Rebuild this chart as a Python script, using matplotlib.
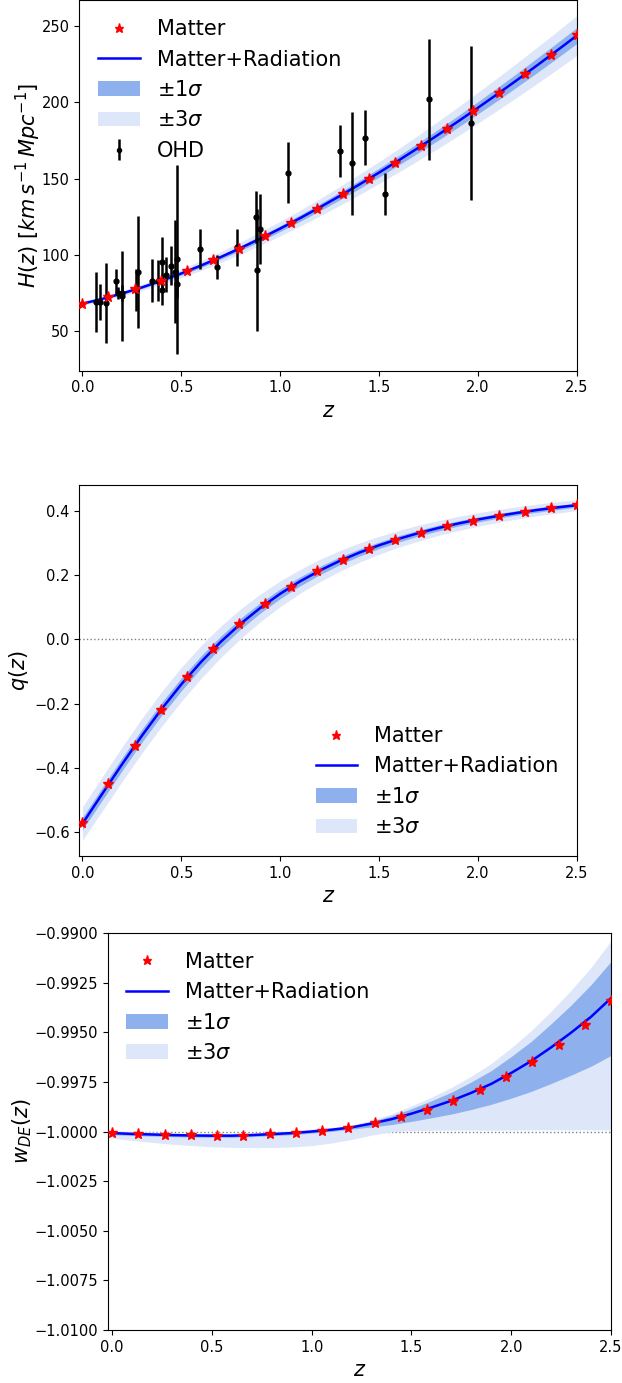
import numpy as np
import matplotlib
matplotlib.use("Agg")
import matplotlib.pyplot as plt
from matplotlib.ticker import ScalarFormatter, MultipleLocator

# ---------------- data ----------------
z_star = [0.0, 0.1316, 0.2632, 0.3947, 0.5263, 0.6579, 0.7895, 0.9211, 1.0526, 1.1842,
          1.3158, 1.4474, 1.5789, 1.7105, 1.8421, 1.9737, 2.1053, 2.2368, 2.3684, 2.5]
z_line = [0.0, 0.1, 0.2, 0.3, 0.4, 0.5, 0.6, 0.7, 0.8, 0.9, 1.0, 1.1, 1.2,
          1.3, 1.4, 1.5, 1.6, 1.7, 1.8, 1.9, 2.0, 2.1, 2.2, 2.3, 2.4, 2.5]

# H(z)
H_star = [68.0, 72.3, 77.3, 82.9, 89.3, 96.4, 104.0, 112.3, 121.0, 130.2,
          139.8, 150.0, 160.5, 171.4, 182.7, 194.3, 206.3, 218.6, 231.1, 244.0]
H_line = [68.0, 71.1, 74.65, 78.63, 83.04, 87.85, 93.04, 98.61, 104.51, 110.73,
          117.27, 124.09, 131.21, 138.57, 146.18, 154.04, 162.12, 170.44, 178.96,
          187.67, 196.61, 205.72, 215.03, 224.52, 234.18, 244.0]
H_sig1 = [0.4, 0.5, 0.6, 0.8, 1.0, 1.1, 1.3, 1.4, 1.6, 1.8, 1.9, 2.1, 2.3,
          2.5, 2.7, 2.9, 3.1, 3.3, 3.6, 3.8, 4.0, 4.3, 4.5, 4.8, 5.0, 5.2]
H_sig3 = [1.0, 1.3, 1.6, 2.0, 2.4, 2.8, 3.2, 3.6, 4.0, 4.4, 4.8, 5.2, 5.7,
          6.2, 6.7, 7.2, 7.7, 8.3, 8.9, 9.5, 10.1, 10.7, 11.3, 11.9, 12.5, 13.1]

# OHD data
z_ohd = [0.07, 0.09, 0.12, 0.17, 0.179, 0.199, 0.2, 0.27, 0.28, 0.352, 0.3802, 0.4,
         0.4004, 0.4247, 0.4497, 0.47, 0.4783, 0.48, 0.593, 0.68, 0.781, 0.875, 0.88,
         0.9, 1.037, 1.3, 1.363, 1.43, 1.53, 1.75, 1.965]
H_ohd = [69.0, 69.0, 68.6, 83.0, 75.0, 75.0, 72.9, 77.0, 88.8, 83.0, 83.0, 95.0,
         77.0, 87.1, 92.8, 89.0, 80.9, 97.0, 104.0, 92.0, 105.0, 125.0, 90.0,
         117.0, 154.0, 168.0, 160.0, 177.0, 140.0, 202.0, 186.5]
H_err = [19.6, 12.0, 26.2, 8.0, 4.0, 5.0, 29.6, 14.0, 36.6, 14.0, 13.5, 17.0,
         10.2, 11.2, 12.9, 34.0, 9.0, 62.0, 13.0, 8.0, 12.0, 17.0, 40.0,
         23.0, 20.0, 17.0, 33.6, 18.0, 14.0, 40.0, 50.4]

# q(z)
q_star = [-0.570, -0.448, -0.330, -0.218, -0.118, -0.030, 0.047, 0.109, 0.164, 0.211,
          0.248, 0.282, 0.309, 0.332, 0.352, 0.368, 0.383, 0.396, 0.407, 0.417]
q_line = [-0.5725, -0.4800, -0.3883, -0.2998, -0.2165, -0.1396, -0.0699, -0.0072,
          0.0488, 0.0982, 0.1418, 0.1802, 0.2139, 0.2436, 0.2696, 0.2924, 0.3126,
          0.3304, 0.3461, 0.3601, 0.3725, 0.3835, 0.3933, 0.4021, 0.4100, 0.4171]
q_sig1 = [0.019, 0.020, 0.020, 0.020, 0.020, 0.020, 0.019, 0.018, 0.017, 0.016, 0.015,
          0.014, 0.013, 0.012, 0.011, 0.010, 0.010, 0.009, 0.009, 0.008, 0.008, 0.007,
          0.007, 0.007, 0.007, 0.006]
q_sig3 = [0.052, 0.053, 0.054, 0.054, 0.054, 0.053, 0.051, 0.049, 0.046, 0.043, 0.040,
          0.037, 0.035, 0.032, 0.030, 0.028, 0.026, 0.025, 0.023, 0.022, 0.021, 0.020,
          0.019, 0.018, 0.018, 0.017]

# w_DE(z)
w_star = [-1.00008, -1.00013, -1.00017, -1.00020, -1.00022, -1.00021, -1.00015, -1.00008,
          -0.99996, -0.99983, -0.99956, -0.99927, -0.99892, -0.99847, -0.99793, -0.99726,
          -0.99652, -0.99563, -0.99462, -0.99341]
w_line = [-1.00008, -1.00012, -1.00015, -1.00018, -1.00020, -1.00021, -1.00021, -1.00018,
          -1.00013, -1.00008, -1.00000, -0.99991, -0.99979, -0.99960, -0.99938, -0.99910,
          -0.99879, -0.99845, -0.99805, -0.99760, -0.99705, -0.99645, -0.99576, -0.99502,
          -0.99422, -0.99328]
w_sig1_hi = [0.00007, 0.00007, 0.00007, 0.00007, 0.00007, 0.00007, 0.00007, 0.00007,
             0.00007, 0.00007, 0.00007, 0.00007, 0.00007, 0.00011, 0.00017, 0.00025,
             0.00034, 0.00043, 0.00055, 0.00067, 0.00083, 0.00099, 0.00119, 0.00139,
             0.00162, 0.00185]
w_sig1_lo = [0.00008, 0.00008, 0.00008, 0.00008, 0.00008, 0.00008, 0.00008, 0.00008,
             0.00008, 0.00008, 0.00008, 0.00008, 0.00009, 0.00017, 0.00027, 0.00039,
             0.00052, 0.00067, 0.00084, 0.00103, 0.00127, 0.00153, 0.00182, 0.00214,
             0.00249, 0.00289]
w_sig3_hi = [0.00012, 0.00012, 0.00012, 0.00012, 0.00012, 0.00012, 0.00012, 0.00012,
             0.00012, 0.00012, 0.00012, 0.00012, 0.00012, 0.00017, 0.00027, 0.00039,
             0.00052, 0.00067, 0.00084, 0.00103, 0.00127, 0.00153, 0.00182, 0.00214,
             0.00249, 0.00289]
w_sig3_lower = [-1.00034, -1.00045, -1.00055, -1.00064, -1.00071, -1.00077, -1.00080,
                -1.00081, -1.00081, -1.00078, -1.00071, -1.00058, -1.00040, -1.00018,
                -1.00002, -0.99996, -0.99994, -0.99993, -0.99993, -0.99993, -0.99993,
                -0.99992, -0.99992, -0.99992, -0.99992, -0.99992]

# ---------------- style ----------------
c_sig1 = "#8EB1EE"
c_sig3 = "#DEE7F9"
leg_fs = 15
lab_fs = 15
tick_fs = 10.5

fig = plt.figure(figsize=(6.22, 13.83), dpi=100)
ax1 = fig.add_axes([0.1278, 0.7320, 0.7998, 0.2677])
ax2 = fig.add_axes([0.1278, 0.3811, 0.7998, 0.2683])
ax3 = fig.add_axes([0.1732, 0.0383, 0.8092, 0.2871])

zl = np.array(z_line)


def common(ax, line_vals, star_vals, lo1, hi1, lo3, hi3):
    f3 = ax.fill_between(zl, lo3, hi3, color=c_sig3, lw=0, label=r"$\pm 3\sigma$", zorder=1)
    f1 = ax.fill_between(zl, lo1, hi1, color=c_sig1, lw=0, label=r"$\pm 1\sigma$", zorder=2)
    ln, = ax.plot(zl, line_vals, color="blue", lw=1.8, label="Matter+Radiation", zorder=3)
    st, = ax.plot(z_star, star_vals, ls="none", marker="*", color="red", ms=8,
                  label="Matter", zorder=5)
    ax.set_xlabel(r"$z$", fontsize=lab_fs)
    ax.xaxis.set_major_locator(MultipleLocator(0.5))
    ax.tick_params(labelsize=tick_fs)
    return st, ln, f1, f3


# Panel 1: H(z)
Hl = np.array(H_line)
s1, l1, f11, f13 = common(ax1, Hl, H_star, Hl - np.array(H_sig1), Hl + np.array(H_sig1),
                          Hl - np.array(H_sig3), Hl + np.array(H_sig3))
eb = ax1.errorbar(z_ohd, H_ohd, yerr=H_err, fmt="o", color="black", ms=3.5,
                  elinewidth=1.8, capsize=0, label="OHD", zorder=4)
ax1.set_xlim(-0.015, 2.5)
ax1.set_ylim(24, 267)
ax1.yaxis.set_major_locator(MultipleLocator(50))
ax1.set_ylabel(r"$H(z)\ [km\,s^{-1}\,Mpc^{-1}]$", fontsize=lab_fs, labelpad=-1)
ax1.legend(handles=[s1, l1, f11, f13, eb], loc="upper left", frameon=False,
           fontsize=leg_fs, markerscale=0.85)

# Panel 2: q(z)
ql = np.array(q_line)
s2, l2, f21, f23 = common(ax2, ql, q_star, ql - np.array(q_sig1), ql + np.array(q_sig1),
                          ql - np.array(q_sig3), ql + np.array(q_sig3))
ax2.axhline(0.0, color="gray", ls=":", lw=1, zorder=0.5)
ax2.set_xlim(-0.015, 2.5)
ax2.set_ylim(-0.673, 0.48)
ax2.yaxis.set_major_locator(MultipleLocator(0.2))
ax2.set_ylabel(r"$q(z)$", fontsize=lab_fs, labelpad=2)
ax2.legend(handles=[s2, l2, f21, f23], loc="lower right", frameon=False,
           fontsize=leg_fs, markerscale=0.85)

# Panel 3: w_DE(z)
wl = np.array(w_line)
s3, l3, f31, f33 = common(ax3, wl, w_star, wl - np.array(w_sig1_lo), wl + np.array(w_sig1_hi),
                          np.array(w_sig3_lower), wl + np.array(w_sig3_hi))
ax3.axhline(-1.0, color="gray", ls=":", lw=1, zorder=0.5)
ax3.set_xlim(-0.022, 2.5)
ax3.set_ylim(-1.01, -0.99)
ax3.set_yticks([-1.01, -1.0075, -1.005, -1.0025, -1.0, -0.9975, -0.995, -0.9925, -0.99])
fmt = ScalarFormatter(useOffset=False)
ax3.yaxis.set_major_formatter(fmt)
ax3.set_ylabel(r"$w_{DE}(z)$", fontsize=lab_fs, labelpad=0)
ax3.legend(handles=[s3, l3, f31, f33], loc="upper left", frameon=False,
           fontsize=leg_fs, markerscale=0.85)

fig.savefig("out.png", dpi=100)
